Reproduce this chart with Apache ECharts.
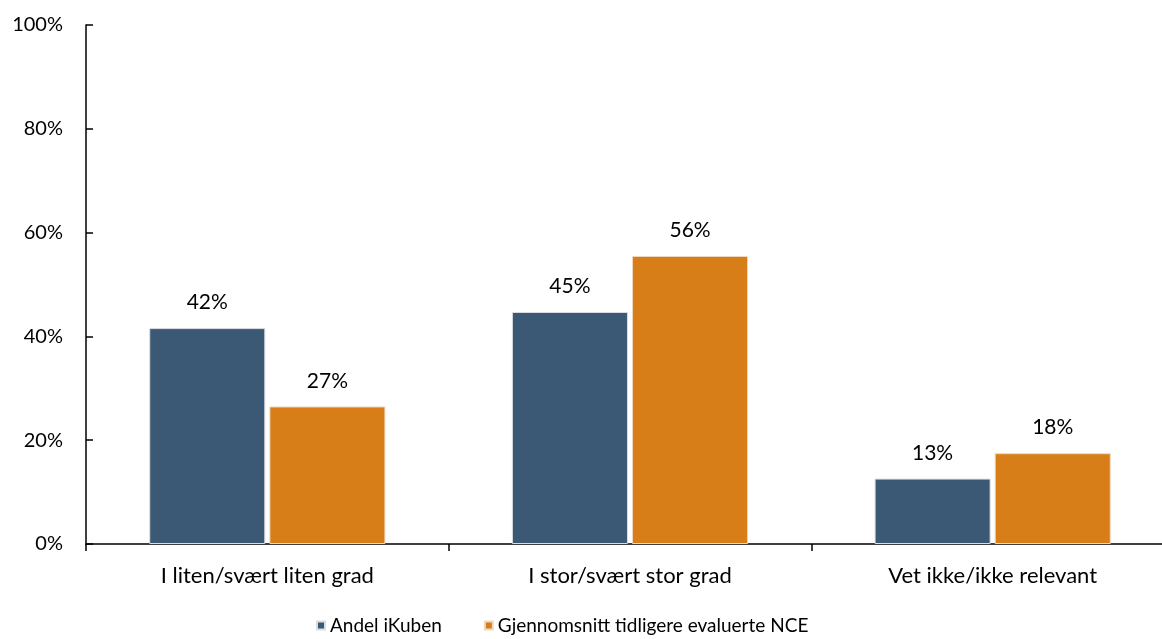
<!DOCTYPE html>
<html>
<head>
<meta charset="utf-8">
<script src="https://cdn.jsdelivr.net/npm/echarts@6/dist/echarts.min.js"></script>
<style>
html,body{margin:0;padding:0;background:#fff;}
#c{width:1162px;height:639px;}
</style>
</head>
<body>
<div id="c"></div>
<script>
const categories = ['I liten/svært liten grad', 'I stor/svært stor grad', 'Vet ikke/ikke relevant'];
const seriesNames = ['Andel iKuben', 'Gjennomsnitt tidligere evaluerte NCE'];
const ikuben = [41.6, 44.7, 12.6];
const nce = [26.5, 55.5, 17.5];
const yTicks = [0, 20, 40, 60, 80, 100];

const FONT = 'Lato';
const chart = echarts.init(document.getElementById('c'), null, {renderer: 'canvas'});
const labelCfg = {
  show: true, position: 'top', distance: 15,
  color: '#000', fontFamily: FONT, fontSize: 21,
  formatter: p => Math.round(p.value) + '%'
};
chart.setOption({
  animation: false,
  textStyle: {fontFamily: FONT},
  grid: {left: 86, width: 1088, top: 25, bottom: 95, containLabel: false, outerBoundsMode: 'none'},
  legend: {
    top: 611, left: 311,
    itemWidth: 8, itemHeight: 8, itemGap: 42,
    icon: 'rect',
    textStyle: {fontFamily: FONT, fontSize: 19, color: '#000'},
    data: seriesNames
  },
  xAxis: {
    type: 'category', data: categories,
    axisLine: {lineStyle: {color: '#000', width: 1.5}},
    axisTick: {show: true, length: 7, lineStyle: {color: '#000', width: 1.5}},
    axisLabel: {color: '#000', fontFamily: FONT, fontSize: 22, margin: 21}
  },
  yAxis: {
    type: 'value', min: 0, max: 100, interval: 20,
    axisLine: {show: true, lineStyle: {color: '#000', width: 1.5}},
    axisTick: {show: true, inside: true, length: 7, lineStyle: {color: '#000', width: 1.5}},
    splitLine: {show: false},
    axisLabel: {color: '#000', fontFamily: FONT, fontSize: 20, margin: 23,
      formatter: v => yTicks.includes(v) ? v + '%' : ''}
  },
  series: [
    {name: seriesNames[0], type: 'bar', data: ikuben, barWidth: '32%', barGap: '3.5%',
     itemStyle: {color: '#3B5875', borderColor: '#d9dde2', borderWidth: 1}, label: labelCfg},
    {name: seriesNames[1], type: 'bar', data: nce, barWidth: '32%',
     itemStyle: {color: '#D87E18', borderColor: '#f0d9c0', borderWidth: 1}, label: labelCfg}
  ]
});
</script>
</body>
</html>
